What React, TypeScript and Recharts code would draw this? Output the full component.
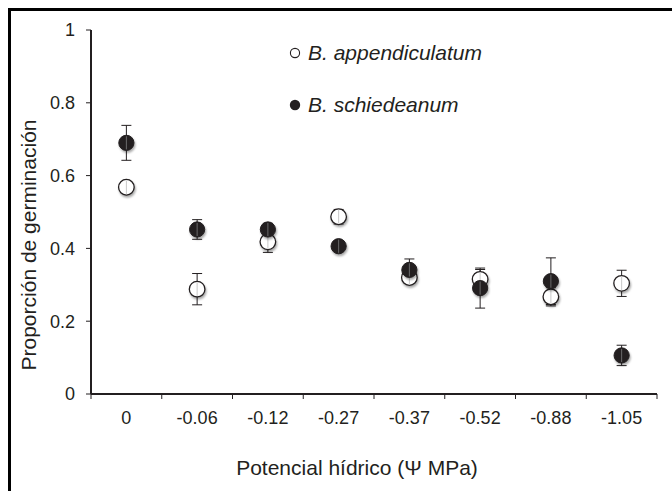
import React from 'react';
import { ScatterChart, Scatter, XAxis, YAxis, ErrorBar, Legend, Label } from 'recharts';

const categories = ['0', '-0.06', '-0.12', '-0.27', '-0.37', '-0.52', '-0.88', '-1.05'];
const appendiculatum = [0.568, 0.288, 0.418, 0.487, 0.32, 0.315, 0.267, 0.304];
const appendiculatumErr = [0.008, 0.043, 0.029, 0.02, 0.01, 0.027, 0.025, 0.036];
const schiedeanum = [0.69, 0.452, 0.452, 0.406, 0.341, 0.291, 0.31, 0.106];
const schiedeanumErr = [0.048, 0.027, 0.017, 0.01, 0.03, 0.055, 0.064, 0.028];
const yTicks = [0, 0.2, 0.4, 0.6, 0.8, 1];
const seriesNames = ['B. appendiculatum', 'B. schiedeanum'];

const appData = categories.map((c, i) => ({ x: i + 0.5, y: appendiculatum[i], err: appendiculatumErr[i], cat: c }));
const schData = categories.map((c, i) => ({ x: i + 0.5, y: schiedeanum[i], err: schiedeanumErr[i], cat: c }));
const xTicks = categories.map((_, i) => i + 0.5);

const FONT = '"Liberation Sans", Arial, Helvetica, sans-serif';
const INK = '#231f20';
const TICK_SIZE = 5;
const X_TICK_MARGIN = 12;
const SHADOW = 'drop-shadow(1px 2px 1.2px rgba(0,0,0,0.35))';

const OpenDot = (props: any) => {
  const { cx, cy } = props;
  if (cx == null || cy == null) return null;
  const r = 7.8;
  return (
    <g>
      <circle cx={cx} cy={cy} r={r} fill="#ffffff" stroke={INK} strokeWidth={1.3} style={{ filter: SHADOW }} />
      <line x1={cx} x2={cx} y1={cy - r + 1} y2={cy + r - 1} stroke="#c8c8c8" strokeWidth={1} />
    </g>
  );
};

const FilledDot = (props: any) => {
  const { cx, cy } = props;
  if (cx == null || cy == null) return null;
  const r = 7.6;
  return (
    <g>
      <circle cx={cx} cy={cy} r={r} fill={INK} stroke={INK} strokeWidth={1} style={{ filter: SHADOW }} />
      <line x1={cx} x2={cx} y1={cy - r + 1} y2={cy + r - 1} stroke="#6a6a6a" strokeWidth={1} />
    </g>
  );
};

const XTick = (props: any) => {
  const { x, y, payload, index, width } = props;
  const w = typeof width === 'number' ? width : 566;
  const half = w / categories.length / 2;
  const y0 = y - X_TICK_MARGIN - TICK_SIZE;
  const y1 = y - X_TICK_MARGIN;
  const label = categories[Math.round(payload.value - 0.5)];
  return (
    <g>
      <line x1={x - half} x2={x - half} y1={y0} y2={y1} stroke={INK} strokeWidth={1} />
      {index === categories.length - 1 && (
        <line x1={x + half} x2={x + half} y1={y0} y2={y1} stroke={INK} strokeWidth={1} />
      )}
      <text x={x} y={y} dy="0.71em" textAnchor="middle" fill={INK} fontSize={18} fontFamily={FONT}>
        {label}
      </text>
    </g>
  );
};

const renderLegend = () => (
  <div style={{ fontFamily: FONT, fontSize: 21, fontStyle: 'italic', color: INK }}>
    {seriesNames.map((name, i) => (
      <div key={name} style={{ display: 'flex', alignItems: 'center', height: 24, marginBottom: i === 0 ? 28.3 : 0 }}>
        <svg width={12} height={12} style={{ marginRight: 7 }}>
          {i === 0 ? (
            <circle cx={6} cy={6} r={4.6} fill="#fff" stroke={INK} strokeWidth={1.1} />
          ) : (
            <circle cx={6} cy={6} r={5.2} fill={INK} />
          )}
        </svg>
        <span style={{ whiteSpace: 'nowrap' }}>{name}</span>
      </div>
    ))}
  </div>
);

export default function App() {
  return (
    <div style={{ position: 'absolute', left: 0, top: 0, width: 672, height: 491, overflow: 'hidden', background: '#fff' }}>
      <div
        style={{
          position: 'absolute',
          left: 8,
          top: 8,
          width: 800,
          height: 600,
          borderLeft: '3px solid #000',
          borderTop: '3px solid #000',
          boxSizing: 'border-box',
        }}
      />
      <div style={{ position: 'absolute', left: 0, top: 0 }}>
        <ScatterChart width={672} height={491} margin={{ top: 30, right: 15, bottom: 0, left: 0 }}>
          <XAxis
            type="number"
            dataKey="x"
            domain={[0, categories.length]}
            ticks={xTicks}
            interval={0}
            height={97}
            tickSize={TICK_SIZE}
            tickMargin={X_TICK_MARGIN}
            tickLine={false}
            axisLine={{ stroke: INK, strokeWidth: 2 }}
            tick={<XTick />}
          >
            <Label
              content={(p: any) => {
                const vb = p.viewBox || {};
                const cx = vb.x + vb.width / 2 - 17;
                const by = vb.y + 81;
                return (
                  <text x={cx} y={by} textAnchor="middle" fill={INK} fontSize={21} fontFamily={FONT}>
                    Potencial hídrico (Ψ MPa)
                  </text>
                );
              }}
            />
          </XAxis>
          <YAxis
            type="number"
            dataKey="y"
            domain={[0, 1]}
            ticks={yTicks}
            interval={0}
            width={91}
            tickSize={TICK_SIZE}
            tickMargin={11}
            axisLine={{ stroke: INK, strokeWidth: 2 }}
            tickLine={{ stroke: INK, strokeWidth: 1 }}
            tick={{ fill: INK, fontSize: 18, fontFamily: FONT }}
          >
            <Label
              content={(p: any) => {
                const vb = p.viewBox || {};
                const bx = vb.x + 36;
                const cy = vb.y + vb.height / 2 + 33;
                return (
                  <text
                    x={bx}
                    y={cy}
                    transform={`rotate(-90 ${bx} ${cy})`}
                    textAnchor="middle"
                    fill={INK}
                    fontSize={21}
                    fontFamily={FONT}
                  >
                    Proporción de germinación
                  </text>
                );
              }}
            />
          </YAxis>
          <Legend
            layout="vertical"
            align="center"
            verticalAlign="middle"
            content={renderLegend}
            wrapperStyle={{ left: 289, top: 41, width: 'auto' }}
          />
          <Scatter name={seriesNames[0]} data={appData} shape={OpenDot} isAnimationActive={false}>
            <ErrorBar dataKey="err" direction="y" width={5} stroke={INK} strokeWidth={1} isAnimationActive={false} />
          </Scatter>
          <Scatter name={seriesNames[1]} data={schData} shape={FilledDot} isAnimationActive={false}>
            <ErrorBar dataKey="err" direction="y" width={5} stroke={INK} strokeWidth={1} isAnimationActive={false} />
          </Scatter>
        </ScatterChart>
      </div>
    </div>
  );
}
